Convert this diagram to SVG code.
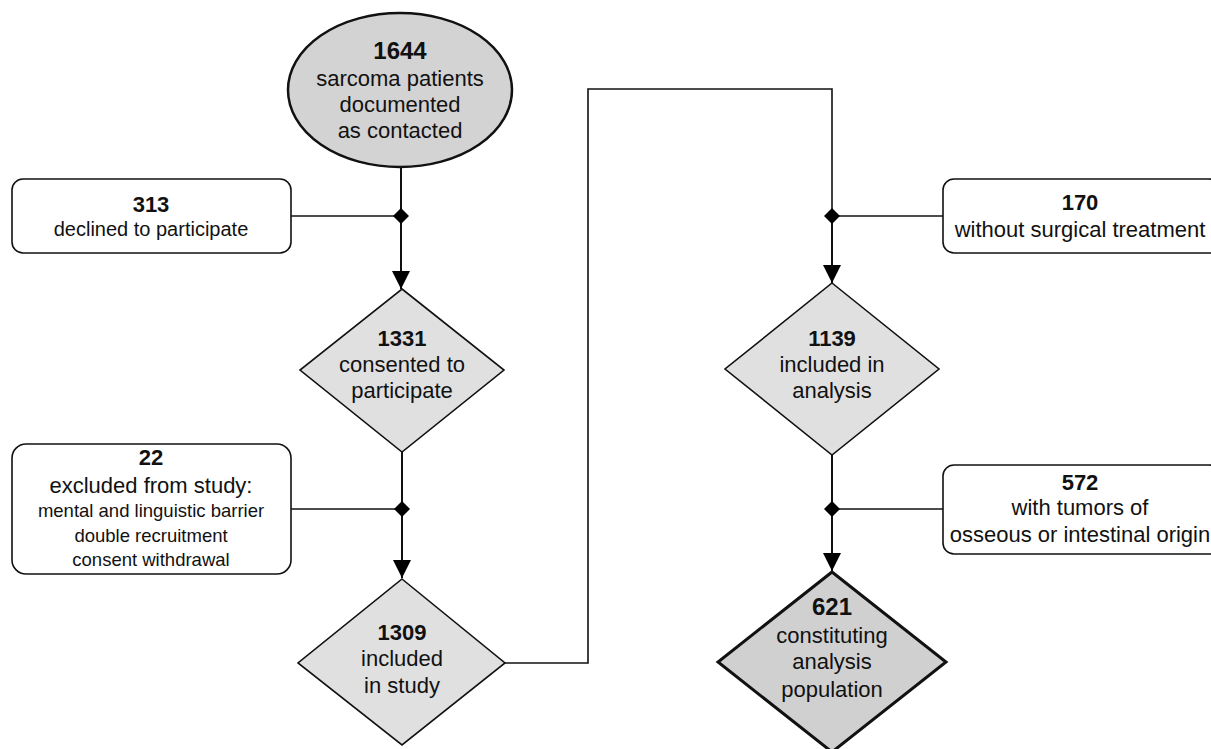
<svg xmlns="http://www.w3.org/2000/svg" width="1211" height="749" viewBox="0 0 1211 749">
<style>
text{font-family:"Liberation Sans",Arial,Helvetica,sans-serif;fill:#111;text-anchor:middle}
.b{font-weight:bold;font-size:22px}
.t{font-size:22px}
.s{font-size:18.5px}
.box{fill:#fff;stroke:#111;stroke-width:1.6}
.dia{fill:#e0e0e0;stroke:#111;stroke-width:1.6}
.ln{fill:none;stroke:#111;stroke-width:1.6}
.ar{fill:none;stroke:#111;stroke-width:2}
.jn{fill:#000}
</style>
<defs>
<marker id="arr" viewBox="0 0 18 18" refX="18" refY="9" markerWidth="18" markerHeight="18" markerUnits="userSpaceOnUse" orient="auto">
<path d="M0,0 L18,9 L0,18 z" fill="#000"/>
</marker>
</defs>
<g id="connectors">
<path class="ar" d="M401,168 V289" marker-end="url(#arr)"/>
<path class="ln" d="M291,216 H401"/>
<path class="jn" d="M401,208 L409,216 L401,224 L393,216 z"/>
<path class="ar" d="M402,452 V578" marker-end="url(#arr)"/>
<path class="ln" d="M291,509 H402"/>
<path class="jn" d="M402,501 L410,509 L402,517 L394,509 z"/>
<path class="ln" d="M505,663 H588 V89 H832 V216"/>
<path class="ar" d="M832,214 V283" marker-end="url(#arr)"/>
<path class="ln" d="M832,216 H943"/>
<path class="jn" d="M832,208 L840,216 L832,224 L824,216 z"/>
<path class="ar" d="M832,455 V571" marker-end="url(#arr)"/>
<path class="ln" d="M832,509 H943"/>
<path class="jn" d="M832,501 L840,509 L832,517 L824,509 z"/>
</g>
<g id="n1644">
<ellipse cx="400" cy="90" rx="112" ry="77" fill="#d3d3d3" stroke="#111" stroke-width="2.5"/>
<text class="b" x="400" y="59" style="font-size:24px">1644</text>
<text class="t" x="400" y="86">sarcoma patients</text>
<text class="t" x="400" y="112">documented</text>
<text class="t" x="400" y="138">as contacted</text>
</g>
<g id="n313">
<rect class="box" x="12" y="179" width="279" height="74" rx="11"/>
<text class="b" x="151" y="212">313</text>
<text class="t" x="151" y="236" style="font-size:20px">declined to participate</text>
</g>
<g id="n1331">
<path class="dia" d="M402,289 L504,370 L402,452 L300,370 z"/>
<text class="b" x="402" y="346">1331</text>
<text class="t" x="402" y="372">consented to</text>
<text class="t" x="402" y="398">participate</text>
</g>
<g id="n22">
<rect class="box" x="12" y="444" width="279" height="130" rx="14"/>
<text class="b" x="151" y="465">22</text>
<text class="t" x="151" y="493">excluded from study:</text>
<text class="s" x="151" y="517">mental and linguistic barrier</text>
<text class="s" x="151" y="542">double recruitment</text>
<text class="s" x="151" y="566">consent withdrawal</text>
</g>
<g id="n1309">
<path class="dia" d="M402,579 L505,663 L402,745 L298,663 z"/>
<text class="b" x="402" y="640">1309</text>
<text class="t" x="402" y="666">included</text>
<text class="t" x="402" y="693">in study</text>
</g>
<g id="n170">
<rect class="box" x="943" y="179" width="277" height="74" rx="11"/>
<text class="b" x="1080" y="210">170</text>
<text class="t" x="1080" y="237">without surgical treatment</text>
</g>
<g id="n1139">
<path class="dia" d="M832,283 L939,369 L832,455 L725,369 z"/>
<text class="b" x="832" y="346">1139</text>
<text class="t" x="832" y="372">included in</text>
<text class="t" x="832" y="398">analysis</text>
</g>
<g id="n572">
<rect class="box" x="943" y="465" width="277" height="89" rx="11"/>
<text class="b" x="1080" y="490">572</text>
<text class="t" x="1080" y="515">with tumors of</text>
<text class="t" x="1080" y="542">osseous or intestinal origin</text>
</g>
<g id="n621">
<path d="M832,572 L946,662 L832,752 L718,662 z" fill="#d0d0d0" stroke="#111" stroke-width="3"/>
<text class="b" x="832" y="615" style="font-size:24px">621</text>
<text class="t" x="832" y="643">constituting</text>
<text class="t" x="832" y="669">analysis</text>
<text class="t" x="832" y="697">population</text>
</g>
</svg>
